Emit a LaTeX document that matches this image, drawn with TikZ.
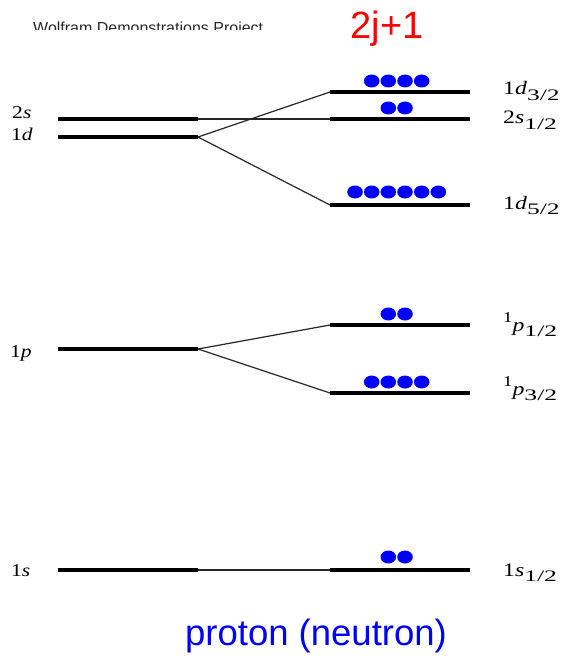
\documentclass[tikz,border=0pt]{standalone}
\usepackage{fontspec}
\usepackage{graphicx}
\setmainfont{Liberation Serif}
\newfontfamily\sansf{Liberation Sans}
\newfontfamily\labf{Liberation Serif}
\definecolor{dotblue}{RGB}{0,0,255}
\definecolor{hdrgray}{RGB}{40,40,40}
% main part of a label, stretched
\newcommand{\lmain}[1]{\scalebox{1.25}[1]{\fontsize{19}{19}\selectfont #1}}
% subscript part
\newcommand{\lsub}[1]{\raisebox{-5.5pt}{\scalebox{1.6}[1]{\fontsize{16}{16}\selectfont #1}}}
% raised leading 1
\newcommand{\lsup}[1]{\raisebox{8.5pt}{\scalebox{1.25}[1]{\fontsize{15}{15}\selectfont #1}}}
\newcommand{\lleft}[1]{\scalebox{1.2}[1]{\fontsize{18}{18}\selectfont #1}}
\begin{document}
\begin{tikzpicture}[x=1pt,y=-1pt,
  level/.style={line width=4pt, black},
  conn/.style={line width=1.2pt, black!85},
  lab/.style={inner sep=0pt, font=\labf},
  edot/.style={fill=dotblue, draw=none}]
\useasboundingbox (0,0) rectangle (572,658);

% header
\begin{scope}
\clip (0,0) rectangle (572,29.5);
\node[anchor=base west, inner sep=0pt, text=hdrgray, font=\sansf\fontsize{16}{16}\selectfont] (hdr) at (33,33.5) {Wolfram Demonstrations Project};
\end{scope}
\node[anchor=base, inner sep=0pt, text=red, font=\sansf\fontsize{38}{38}\selectfont] (tj) at (387,38.5) {2j+1};
\node[anchor=base, inner sep=0pt, text=dotblue, font=\sansf\fontsize{36.5}{36.5}\selectfont] (pn) at (316,645) {proton (neutron)};

% left level coordinates
\coordinate (a2s) at (58,119);  \coordinate (b2s) at (198,119);
\coordinate (a1d) at (58,137);  \coordinate (b1d) at (198,137);
\coordinate (a1p) at (58,349);  \coordinate (b1p) at (198,349);
\coordinate (a1s) at (58,570);  \coordinate (b1s) at (198,570);
% right level coordinates
\coordinate (ad3) at (330,92);  \coordinate (bd3) at (470,92);
\coordinate (as1) at (330,119); \coordinate (bs1) at (470,119);
\coordinate (ad5) at (330,205); \coordinate (bd5) at (470,205);
\coordinate (ap1) at (330,325); \coordinate (bp1) at (470,325);
\coordinate (ap3) at (330,393); \coordinate (bp3) at (470,393);
\coordinate (ass) at (330,570); \coordinate (bss) at (470,570);

% connectors
\draw[conn] (b2s) -- (as1);
\draw[conn] (b1d) -- (ad3);
\draw[conn] (b1d) -- (ad5);
\draw[conn] (b1p) -- (ap1);
\draw[conn] (b1p) -- (ap3);
\draw[conn] (b1s) -- (ass);

% levels
\foreach \p in {2s,1d,1p,1s} \draw[level] (a\p) -- (b\p);
\foreach \p in {d3,s1,d5,p1,p3,ss} \draw[level] (a\p) -- (b\p);

% dots
\foreach \x in {371.7,388.3,405,421.7} \fill[edot] (\x,81) ellipse [x radius=7.8, y radius=6.5];
\foreach \x in {388.3,405} \fill[edot] (\x,108) ellipse [x radius=7.8, y radius=6.5];
\foreach \x in {355,371.7,388.3,405,421.7,438.3} \fill[edot] (\x,192) ellipse [x radius=7.8, y radius=6.5];
\foreach \x in {388.3,405} \fill[edot] (\x,314) ellipse [x radius=7.8, y radius=6.5];
\foreach \x in {371.7,388.3,405,421.7} \fill[edot] (\x,382) ellipse [x radius=7.8, y radius=6.5];
\foreach \x in {388.3,405} \fill[edot] (\x,557) ellipse [x radius=7.8, y radius=6.5];

% left labels
\node[lab, anchor=base west] (l2s) at (12,119) {\lleft{2\textit{s}}};
\node[lab, anchor=base west] (l1d) at (11,140) {\lleft{1\textit{d}}};
\node[lab, anchor=base west] (l1p) at (10,357) {\lleft{1\textit{p}}};
\node[lab, anchor=base west] (l1s) at (11,576) {\lleft{1\textit{s}}};

% right labels
\node[lab, anchor=base west] (rd3) at (503,95) {\lmain{1\textit{d}}\lsub{3/2}};
\node[lab, anchor=base west] (rs1) at (503,124) {\lmain{2\textit{s}}\lsub{1/2}};
\node[lab, anchor=base west] (rd5) at (503,209) {\lmain{1\textit{d}}\lsub{5/2}};
\node[lab, anchor=base west] (rp1) at (503,331) {\lsup{1}\lmain{\textit{p}}\lsub{1/2}};
\node[lab, anchor=base west] (rp3) at (503,395) {\lsup{1}\lmain{\textit{p}}\lsub{3/2}};
\node[lab, anchor=base west] (rss) at (503,576) {\lmain{1\textit{s}}\lsub{1/2}};
\end{tikzpicture}
\end{document}
